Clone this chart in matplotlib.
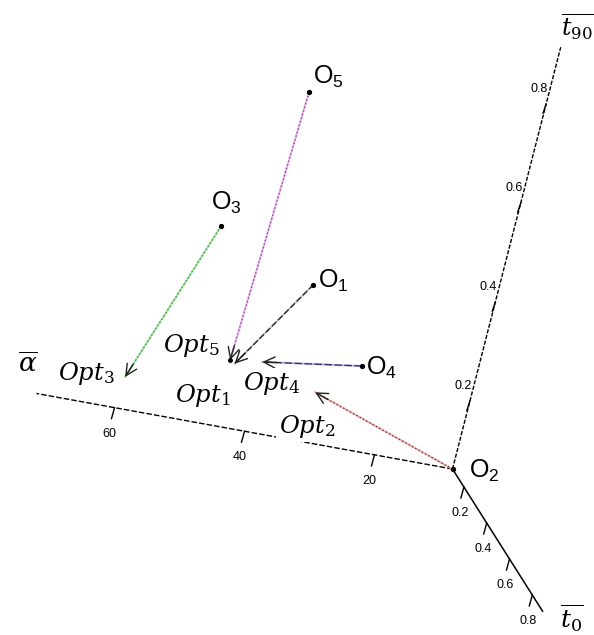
import matplotlib
matplotlib.use("Agg")
import matplotlib.pyplot as plt

# axis extents and ticks (alpha, t0, t90)
AXIS_START = (8.0, 0.10, 0.063)
AXIS_END = (72.0, 0.89, 0.915)
ALPHA_TICKS = [20, 40, 60]
T0_TICKS = [0.2, 0.4, 0.6, 0.8]
T90_TICKS = [0.2, 0.4, 0.6, 0.8]

# objects O1..O5 and their optima, as (alpha, t90); all lie on the t0 = 0.1 plane
OBJ_NAMES = ["1", "2", "3", "4", "5"]
OBJ_ALPHA = [35.4, 8.0, 51.2, 25.2, 43.3]
OBJ_T90 = [0.37, 0.063, 0.45, 0.23, 0.74]
OPT_ALPHA = [44.0, 31.1, 59.6, 40.0, 44.8]
OPT_T90 = [0.19, 0.163, 0.126, 0.203, 0.195]
PLANE_T0 = 0.10

# path colours (light underlay, dark overlay) and overlay dash pattern
PATH_LIGHT = ["#c4c4c4", "#eeb4b4", "#a8eaa8", "#b8b8e4", "#eab4f0"]
PATH_DARK = ["#1e1e1e", "#7a3030", "#4a9a4a", "#2e2e5e", "#8a4a8a"]
PATH_DASH = [(5, 2), (1.2, 1.8), (1.5, 1.5), (6, 2), (1.2, 1.8)]

# label offsets in pixels (right, down)
OBJ_LABEL_OFF = [(20, -4), (32, 2), (5, -24), (20, 2), (19, -15)]
OPT_LABEL_OFF = [(-32, 32), (-8, 34), (-39, -3), (9, 22), (-39, -15)]

# oblique view: pixel position of the axes corner and pixel steps per unit
CORNER = (452.5, 469.0)
U_ALPHA = (-6.5, -1.18)
U_T0 = (114.0, 180.0)
U_T90 = (127.0, -495.0)


def project(a, t0, t90):
    da, d0, d90 = a - AXIS_START[0], t0 - AXIS_START[1], t90 - AXIS_START[2]
    x = CORNER[0] + da * U_ALPHA[0] + d0 * U_T0[0] + d90 * U_T90[0]
    y = CORNER[1] + da * U_ALPHA[1] + d0 * U_T0[1] + d90 * U_T90[1]
    return x, y


W, H = 594, 635
fig = plt.figure(figsize=(W / 100, H / 100), dpi=100)
ax = fig.add_axes([0, 0, 1, 1])
ax.set_xlim(0, W)
ax.set_ylim(H, 0)
ax.axis("off")

tick_font = dict(fontsize=9, family="Liberation Sans", ha="center", va="center")
a0, t00, t900 = AXIS_START

# axes
p0 = project(*AXIS_START)
pa = project(AXIS_END[0], t00, t900)
pt0 = project(a0, AXIS_END[1], t900)
pt90 = project(a0, t00, AXIS_END[2])
ax.plot([p0[0], pa[0]], [p0[1], pa[1]], color="black", lw=1.0,
        dashes=(4, 1.5), zorder=1)
ax.plot([p0[0], pt0[0]], [p0[1], pt0[1]], color="black", lw=1.1, zorder=1)
ax.plot([p0[0], pt90[0]], [p0[1], pt90[1]], color="black", lw=1.0,
        dashes=(3, 1.2), zorder=1)

for v in ALPHA_TICKS:
    x, y = project(v, t00, t900)
    ax.plot([x, x - 3], [y, y + 11], color="black", lw=1)
    ax.text(x - 5, y + 26, f"{v}", **tick_font)
for v in T0_TICKS:
    x, y = project(a0, v, t900)
    ax.plot([x, x - 3], [y, y + 11], color="black", lw=1)
    ax.text(x - 4, y + 26, f"{v:.1f}", **tick_font)
for v in T90_TICKS:
    x, y = project(a0, t00, v)
    ax.plot([x, x - 3], [y, y + 9], color="black", lw=1)
    ax.text(x - 7, y - 15, f"{v:.1f}", **tick_font)

# axis names
ax.text(pa[0] - 9, pa[1] - 29, r"$\overline{\alpha}$", fontsize=19,
        math_fontfamily="dejavuserif", ha="center", va="center")
ax.text(pt90[0] + 17, pt90[1] - 20, r"$\overline{t_{90}}$", fontsize=17,
        math_fontfamily="dejavuserif", ha="center", va="center")
ax.text(pt0[0] + 29, pt0[1] + 7, r"$\overline{t_0}$", fontsize=18,
        math_fontfamily="dejavuserif", ha="center", va="center")

# paths from each object to its optimum
for i, name in enumerate(OBJ_NAMES):
    sx, sy = project(OBJ_ALPHA[i], PLANE_T0, OBJ_T90[i])
    ex, ey = project(OPT_ALPHA[i], PLANE_T0, OPT_T90[i])
    ax.plot([sx, ex], [sy, ey], color=PATH_LIGHT[i], lw=1.5, zorder=2)
    ax.plot([sx, ex], [sy, ey], color=PATH_DARK[i], lw=0.9,
            dashes=PATH_DASH[i], zorder=3)
    # arrow head
    dx, dy = sx - ex, sy - ey
    n = (dx ** 2 + dy ** 2) ** 0.5
    ax.annotate("", xy=(ex, ey), xytext=(ex + dx / n * 15, ey + dy / n * 15),
                arrowprops=dict(arrowstyle="->,head_length=0.8,head_width=0.4",
                                color="#202020", lw=1.0,
                                shrinkA=0, shrinkB=0), zorder=4)
    ax.plot(sx, sy, "o", color="black", ms=2.8, zorder=5)

    ox, oy = OBJ_LABEL_OFF[i]
    ax.annotate(rf"$\mathregular{{O_{name}}}$", (sx, sy),
                xytext=(ox, -oy), textcoords="offset pixels",
                fontsize=18, family="Liberation Sans",
                math_fontfamily="dejavusans", ha="center", va="center")

    lx, ly = OPT_LABEL_OFF[i]
    ax.annotate(rf"$Opt_{name}$", (ex, ey),
                xytext=(lx, -ly), textcoords="offset pixels",
                fontsize=17.5, math_fontfamily="dejavuserif",
                ha="center", va="center", zorder=6,
                bbox=dict(boxstyle="square,pad=0.1", fc="white", ec="none"))

ex, ey = project(OPT_ALPHA[4], PLANE_T0, OPT_T90[4])
ax.plot(ex, ey, "o", color="black", ms=2.5, zorder=5)

fig.savefig("out.png", dpi=100)
